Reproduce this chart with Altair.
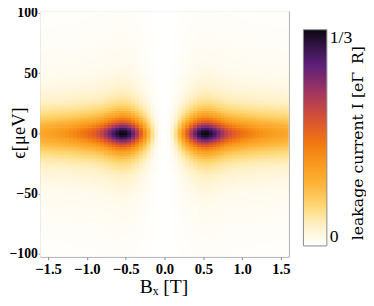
import altair as alt
import pandas as pd

# |B_x| grid (T); the map is mirror-symmetric in B_x
bx_abs = [0.00, 0.05, 0.10, 0.15, 0.20, 0.25, 0.30, 0.35, 0.40, 0.45, 0.50, 0.55,
          0.60, 0.65, 0.70, 0.75, 0.80, 0.85, 0.90, 0.95, 1.00, 1.05, 1.10, 1.15,
          1.20, 1.25, 1.30, 1.35, 1.40, 1.45, 1.50, 1.55, 1.60]
# narrow (core) and broad components of the current at eps = 0, fraction of 1/3
amp_core = [0.0, 0.008, 0.03, 0.075, 0.15, 0.25, 0.36, 0.47, 0.57, 0.66, 0.71, 0.71,
            0.66, 0.59, 0.51, 0.43, 0.36, 0.31, 0.27, 0.24, 0.21, 0.19, 0.17, 0.15,
            0.13, 0.115, 0.10, 0.09, 0.08, 0.07, 0.06, 0.05, 0.05]
amp_broad = [0.0, 0.012, 0.04, 0.085, 0.13, 0.17, 0.20, 0.23, 0.25, 0.27, 0.28, 0.29,
             0.29, 0.29, 0.29, 0.29, 0.29, 0.29, 0.29, 0.29, 0.29, 0.29, 0.29, 0.29,
             0.29, 0.29, 0.29, 0.29, 0.29, 0.29, 0.29, 0.29, 0.28]

# |epsilon| grid (ueV); the map is mirror-symmetric in epsilon
eps_abs = [0, 2, 4, 6, 8, 10, 12, 14, 16, 18, 20, 22, 24, 26, 28, 30, 32, 34, 36, 38,
           40, 42, 44, 46, 48, 50, 52, 54, 56, 58, 60, 62, 64, 66, 68, 70, 72, 74, 76,
           78, 80, 82, 84, 86, 88, 90, 92, 94, 96, 98, 100, 102, 104]
prof_core = [1.00, 0.96, 0.86, 0.72, 0.58, 0.47, 0.38, 0.31, 0.25, 0.205, 0.17, 0.14,
             0.12, 0.105, 0.09, 0.08, 0.07, 0.062, 0.055, 0.05, 0.045, 0.041, 0.037,
             0.034, 0.031, 0.029, 0.027, 0.025, 0.023, 0.0215, 0.02, 0.019, 0.018,
             0.017, 0.016, 0.015, 0.014, 0.0135, 0.013, 0.0125, 0.012, 0.0115, 0.011,
             0.0105, 0.010, 0.0097, 0.0094, 0.0091, 0.0088, 0.0085, 0.0082, 0.008, 0.0078]
prof_broad = [1.00, 0.99, 0.95, 0.90, 0.84, 0.77, 0.69, 0.62, 0.56, 0.50, 0.45, 0.40,
              0.36, 0.32, 0.29, 0.265, 0.24, 0.22, 0.20, 0.185, 0.17, 0.157, 0.145,
              0.135, 0.125, 0.116, 0.108, 0.101, 0.095, 0.089, 0.083, 0.078, 0.074,
              0.07, 0.066, 0.062, 0.059, 0.056, 0.053, 0.05, 0.048, 0.046, 0.044, 0.042,
              0.040, 0.0385, 0.037, 0.0355, 0.034, 0.033, 0.032, 0.031, 0.030]

# colour bar stops (fraction of max) and colours
stops = [0.0, 0.04, 0.10, 0.18, 0.28, 0.38, 0.48, 0.56, 0.64, 0.72, 0.84, 0.94, 1.0]
colors = ["#ffffff", "#fffaec", "#fff0c4", "#fed978", "#fcb53a", "#f99a1c", "#f17612",
          "#e05a2a", "#c34448", "#9c3462", "#5b2078", "#2a123c", "#0d0710"]

IMAX = 1 / 3
cbar_title = "leakage current I [eΓ_R]"


def mirror(vals, neg=False):
    left = [(-v if neg else v) for v in reversed(vals[1:])]
    return left + list(vals)


bx = mirror(bx_abs, True)
a_core, a_broad = mirror(amp_core), mirror(amp_broad)
eps = mirror(eps_abs, True)
p_core, p_broad = mirror(prof_core), mirror(prof_broad)

hx, hy = 0.03, 1.25
rows = []
for xv, ac, ab in zip(bx, a_core, a_broad):
    for yv, pc, pb in zip(eps, p_core, p_broad):
        rows.append({"x0": xv - hx, "x1": xv + hx, "y0": yv - hy, "y1": yv + hy,
                     "I": (ac * pc + ab * pb) * IMAX})
df = pd.DataFrame(rows)

serif = "Liberation Serif"
xs = alt.Scale(domain=[-1.6, 1.6], nice=False, zero=False)
ys = alt.Scale(domain=[-102.4, 101.6], nice=False, zero=False)

heat = alt.Chart(df).mark_rect(clip=True, strokeWidth=0).encode(
    x=alt.X("x0:Q", scale=xs,
            axis=alt.Axis(values=[-1.5, -1.0, -0.5, 0.0, 0.5, 1.0, 1.5], format=".1f",
                          labelFontSize=15, labelPadding=2, tickSize=3,
                          title="Bₓ [T]", titleX=126, titleY=31, titleBaseline="middle",
                          titleAlign="center", titleFontSize=20)),
    x2="x1:Q",
    y=alt.Y("y0:Q", scale=ys,
            axis=alt.Axis(values=[-100, -50, 0, 50, 100], title="ϵ[μeV]",
                          labelFlush=True, labelFlushOffset=-3, labelFontSize=14,
                          labelPadding=1, tickSize=2,
                          titleX=-22, titleY=124, titleBaseline="middle",
                          titleAlign="center", titleAngle=270, titleFontSize=19)),
    y2="y1:Q",
    color=alt.Color("I:Q",
                    scale=alt.Scale(domain=[s * IMAX for s in stops], range=colors,
                                    interpolate="rgb"),
                    legend=alt.Legend(orient="none", legendX=269, legendY=19,
                                      direction="vertical", gradientLength=221,
                                      gradientThickness=24, values=[0, IMAX],
                                      labelExpr="datum.value > 0.1 ? '1/3' : '0'",
                                      labelFont=serif, labelFontSize=18, labelColor="#000",
                                      labelOffset=3, title=None,
                                      gradientStrokeColor="#888", gradientStrokeWidth=1,
                                      padding=0)),
)

frame = alt.Chart(df.head(1)).mark_rect(opacity=0).encode(
    x=alt.X("x0:Q", scale=xs, axis=alt.Axis(orient="top", labels=False, ticks=False,
                                            title=None)),
    x2="x1:Q",
    y=alt.Y("y0:Q", scale=ys, axis=alt.Axis(orient="right", labels=False, ticks=False,
                                            title=None)),
    y2="y1:Q",
)

cb_title = alt.Chart(df.head(1)).mark_text(
    angle=270, font="DejaVu Serif", fontSize=16, color="#000", align="center",
    baseline="middle"
).encode(x=alt.value(325), y=alt.value(135), text=alt.value(cbar_title))

chart = alt.layer(heat, frame, cb_title).resolve_axis(
    x="independent", y="independent").properties(
    width=254, height=251,
    padding={"left": 33, "top": 0, "right": 79, "bottom": 39},
    autosize=alt.AutoSizeParams(type="none")
).configure_view(stroke=None
).configure_axis(labelFont=serif, labelFontWeight="bold",
                 labelColor="#000", titleFont=serif, titleFontWeight="normal",
                 titleColor="#000", domain=True, domainColor="#999", domainWidth=1,
                 grid=False, tickColor="#888")

chart.save("out.html", embed_options={"renderer": "svg", "actions": False})
